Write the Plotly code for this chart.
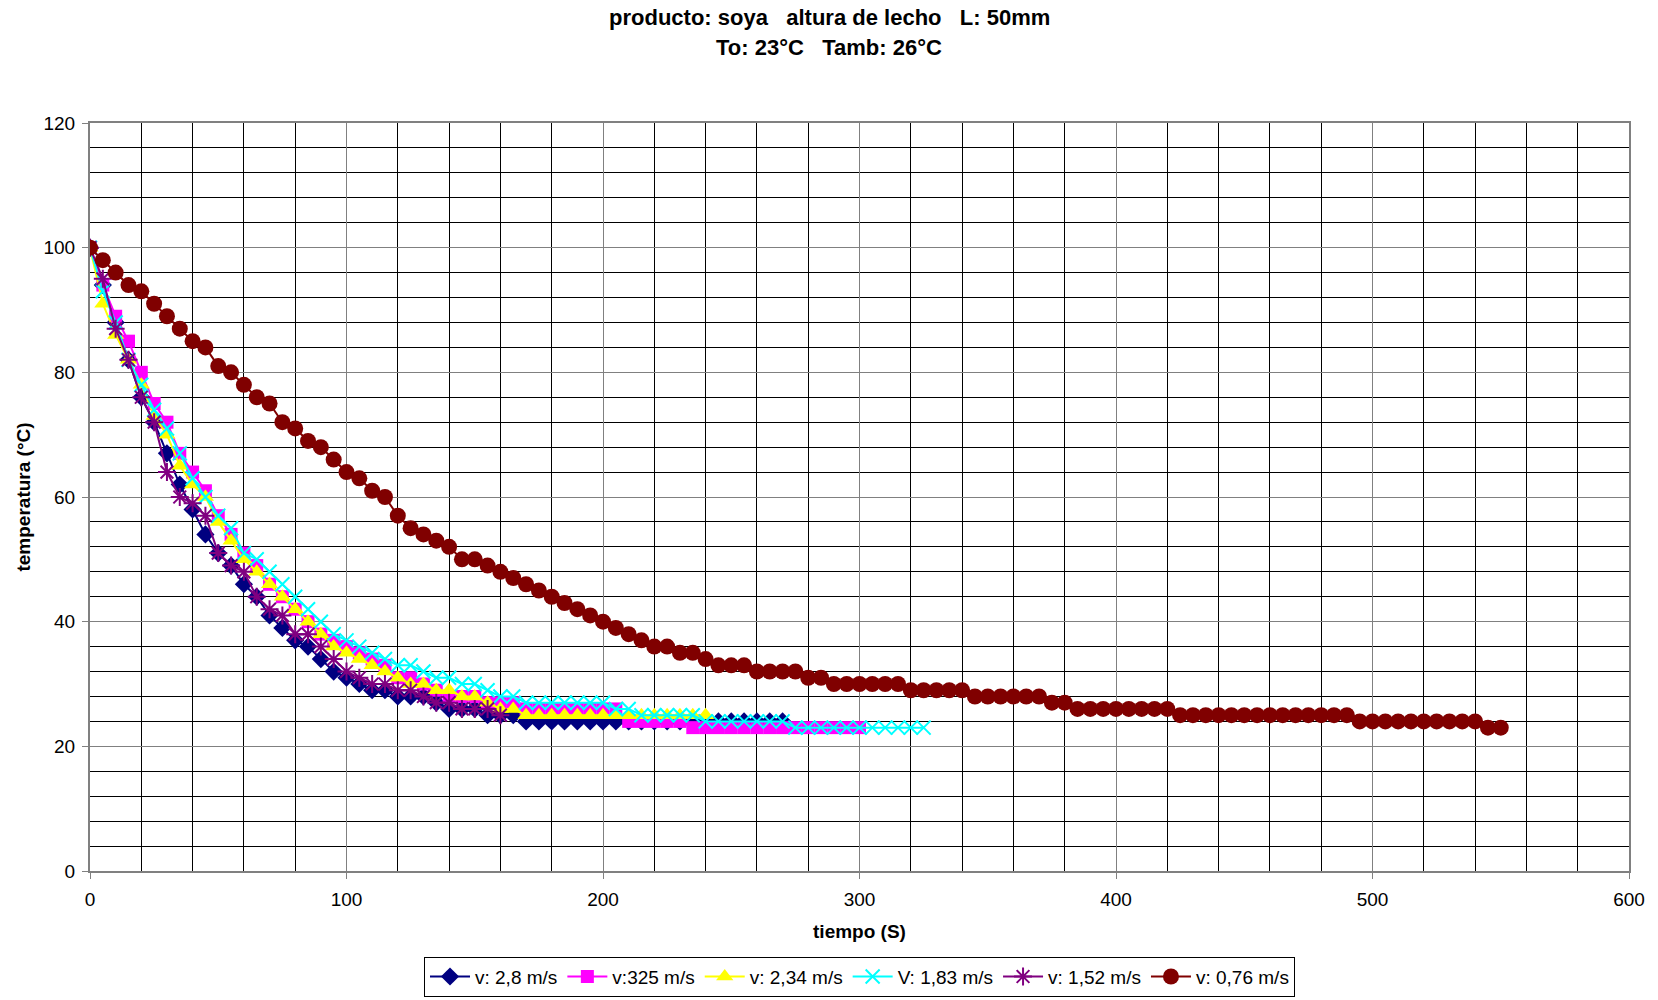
import plotly.graph_objects as go

# time axis (s), sampled every 5 s
t_28 = list(range(0, 275, 5))
t_325 = list(range(0, 305, 5))
t_234 = list(range(0, 245, 5))
t_183 = list(range(0, 330, 5))
t_152 = list(range(0, 165, 5))
t_076 = list(range(0, 555, 5))

T_28 = [100, 94, 88, 82, 76, 72, 67, 62, 58, 54,
        51, 49, 46, 44, 41, 39, 37, 36, 34, 32,
        31, 30, 29, 29, 28, 28, 28, 27, 26, 26,
        26, 25, 25, 25] + [24] * 21

T_325 = [100, 94, 89, 85, 80, 75, 72, 67, 64, 61,
         57, 54, 51, 49, 46, 44, 42, 40, 38, 37,
         36, 35, 34, 33, 31, 31, 30, 29, 28, 28,
         28, 27, 27, 27] + [26] * 8 + [24] * 5 + [23] * 14

T_234 = [100, 91, 86, 82, 78, 73, 70, 65, 62, 60,
         56, 53, 50, 48, 46, 44, 42, 40, 38, 36,
         35, 34, 33, 32, 31, 30, 30, 29, 29, 28,
         28, 27, 26, 26] + [25] * 15

T_183 = [100, 93, 88, 82, 78, 74, 71, 67, 63, 60,
         57, 55, 51, 50, 48, 46, 44, 42, 40, 38,
         37, 36, 35, 34, 33, 33, 32, 31, 31, 30,
         30, 29, 28, 28] + [27] * 7 + [26] * 2 + [25] * 5 + [24] * 7 + [23] * 11

T_152 = [100, 95, 87, 82, 76, 72, 64, 60, 59, 57,
         51, 49, 48, 44, 42, 41, 38, 38, 36, 34,
         32, 31, 30, 30, 29, 29, 28, 27, 27, 26,
         26, 26, 25]

T_076 = [100, 98, 96, 94, 93, 91, 89, 87, 85, 84,
         81, 80, 78, 76, 75, 72, 71, 69, 68, 66,
         64, 63, 61, 60, 57, 55, 54, 53, 52, 50,
         50, 49, 48, 47, 46, 45, 44, 43, 42, 41,
         40, 39, 38, 37, 36, 36, 35, 35, 34, 33,
         33, 33, 32, 32, 32, 32] + [31] * 2 + [30] * 6 + [29] * 5 + [28] * 6 + \
        [27] * 2 + [26] * 8 + [25] * 14 + [24] * 10 + [23] * 2

names = ["v: 2,8 m/s", "v:325 m/s", "v: 2,34 m/s", "V: 1,83 m/s", "v: 1,52 m/s", "v: 0,76 m/s"]
colors = ["#000080", "#FF00FF", "#FFFF00", "#00FFFF", "#800080", "#800000"]
symbols = ["diamond", "square", "triangle-up", "x-thin-open", "asterisk-open", "circle"]
sizes = [14, 13, 15, 14, 15, 16]

series = [(t_28, T_28), (t_325, T_325), (t_234, T_234), (t_183, T_183), (t_152, T_152), (t_076, T_076)]

FONT = "Liberation Sans, Arial, sans-serif"

fig = go.Figure()
for (x, y), n, c, s, sz in zip(series, names, colors, symbols, sizes):
    open_sym = s.endswith("open")
    fig.add_trace(go.Scatter(
        x=x, y=y, name=n, mode="lines+markers",
        line=dict(color=c, width=2),
        marker=dict(symbol=s, size=sz, color=c,
                    line=dict(color=c, width=2 if open_sym else 0)),
    ))

sp = "\u00a0"
title_lines = [f"<b>producto: soya{sp*3}altura de lecho{sp*3}L: 50mm</b>",
               f"<b>To: 23°C{sp*3}Tamb: 26°C</b>"]
for txt, yy in zip(title_lines, [1.1404, 1.1009]):
    fig.add_annotation(text=txt, x=0.4802, y=yy, xref="paper", yref="paper",
                       xanchor="center", yanchor="middle", showarrow=False,
                       font=dict(family=FONT, size=22, color="black"))

fig.update_layout(
    width=1658, height=1000,
    paper_bgcolor="white", plot_bgcolor="white",
    margin=dict(l=90, r=29, t=123, b=129, autoexpand=False),
    font=dict(family=FONT, size=19, color="black"),
    showlegend=True,
    legend=dict(orientation="h", x=0.5, xanchor="center", y=-0.168, yanchor="bottom",
                bordercolor="black", borderwidth=1, bgcolor="white",
                font=dict(family=FONT, size=19), itemwidth=40,
                traceorder="normal"),
)

fig.update_xaxes(
    range=[0, 600], dtick=100, tick0=0,
    showgrid=True, gridcolor="#808080", gridwidth=1,
    minor=dict(dtick=20, showgrid=True, gridcolor="black", gridwidth=1,
               ticks=""),
    showline=True, linecolor="#808080", linewidth=2, mirror=True,
    ticks="outside", ticklen=6, tickcolor="#808080",
    ticklabelstandoff=4, automargin=False,
    zeroline=False,
    title=dict(text="<b>tiempo (S)</b>", font=dict(family=FONT, size=19), standoff=16),
    tickfont=dict(family=FONT, size=19),
)
fig.update_yaxes(
    range=[0, 120], dtick=20, tick0=0,
    showgrid=True, gridcolor="#808080", gridwidth=1,
    minor=dict(dtick=4, showgrid=True, gridcolor="black", gridwidth=1,
               ticks=""),
    showline=True, linecolor="#808080", linewidth=2, mirror=True,
    ticks="outside", ticklen=6, tickcolor="#808080",
    ticklabelstandoff=3, automargin=False,
    zeroline=False,
    title=dict(text="<b>temperatura (°C)</b>", font=dict(family=FONT, size=19), standoff=8),
    tickfont=dict(family=FONT, size=19),
)

fig.write_html("out.html")
